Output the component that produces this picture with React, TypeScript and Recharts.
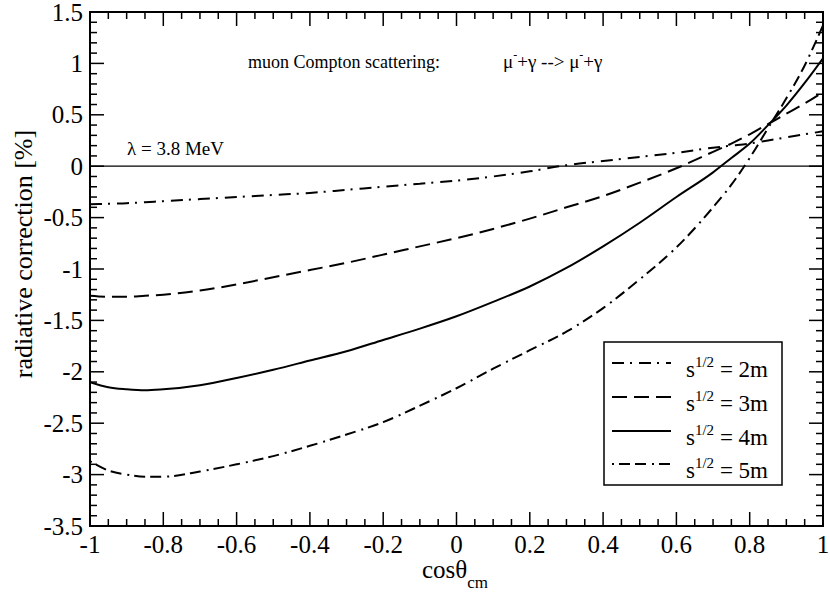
import React from "react"
import { LineChart, Line, XAxis, YAxis, ReferenceLine } from "recharts"

// cos(theta_cm) grid and radiative correction [%] for each sqrt(s)
const cosTheta = [
  -1, -0.95, -0.9, -0.85, -0.8, -0.7, -0.6, -0.5, -0.4, -0.3, -0.2, -0.1, 0,
  0.1, 0.2, 0.3, 0.4, 0.5, 0.6, 0.7, 0.75, 0.8, 0.85, 0.9, 0.95, 1,
]
const s2m = [
  -0.37, -0.365, -0.36, -0.35, -0.34, -0.32, -0.3, -0.28, -0.26, -0.23, -0.2,
  -0.17, -0.14, -0.1, -0.05, 0.01, 0.05, 0.09, 0.13, 0.18, 0.2, 0.22, 0.25,
  0.28, 0.31, 0.34,
]
const s3m = [
  -1.26, -1.27, -1.27, -1.26, -1.25, -1.21, -1.15, -1.08, -1.01, -0.94, -0.86,
  -0.78, -0.7, -0.61, -0.51, -0.4, -0.29, -0.16, -0.02, 0.14, 0.22, 0.31, 0.41,
  0.51, 0.61, 0.72,
]
const s4m = [
  -2.1, -2.15, -2.17, -2.18, -2.17, -2.13, -2.06, -1.98, -1.89, -1.8, -1.69,
  -1.58, -1.46, -1.32, -1.17, -0.99, -0.78, -0.55, -0.3, -0.06, 0.08, 0.22, 0.4,
  0.59, 0.81, 1.05,
]
const s5m = [
  -2.87, -2.96, -3.0, -3.02, -3.02, -2.97, -2.9, -2.82, -2.72, -2.61, -2.49,
  -2.33, -2.16, -1.97, -1.79, -1.61, -1.38, -1.1, -0.79, -0.4, -0.18, 0.08,
  0.37, 0.66, 0.98, 1.37,
]

const seriesLabels = ["2m", "3m", "4m", "5m"]
const seriesKeys = ["s2m", "s3m", "s4m", "s5m"]
const seriesDash = ["12 6 2 7", "15 7", "", "2 5 11 5 11 6"]

const xMajorTicks = [-1, -0.8, -0.6, -0.4, -0.2, 0, 0.2, 0.4, 0.6, 0.8, 1]
const yMajorTicks = [-3.5, -3, -2.5, -2, -1.5, -1, -0.5, 0, 0.5, 1, 1.5]

const data = cosTheta.map((x, i) => ({
  x,
  s2m: s2m[i],
  s3m: s3m[i],
  s4m: s4m[i],
  s5m: s5m[i],
}))

// minor ticks between the labelled ones
function withMinor(major: number[], parts: number) {
  const out: number[] = []
  for (let i = 0; i < major.length - 1; i++) {
    const step = (major[i + 1] - major[i]) / parts
    for (let k = 0; k < parts; k++) out.push(+(major[i] + k * step).toFixed(4))
  }
  out.push(major[major.length - 1])
  return out
}
const xTicks = withMinor(xMajorTicks, 4)
const yTicks = withMinor(yMajorTicks, 5)

const isMajor = (list: number[], v: number) =>
  list.some((m) => Math.abs(m - v) < 1e-6)

const FONT = "'Liberation Serif', 'Times New Roman', 'DejaVu Serif', serif"
const serif = { fontFamily: FONT }
const TOP = 12
const BOTTOM = 526
const LEFT = 90
const RIGHT = 823

function XTick(props: any) {
  const { x, payload, side } = props
  const v = payload.value
  const major = isMajor(xMajorTicks, v)
  const len = major ? 14 : 7
  const y0 = side === "bottom" ? BOTTOM : TOP
  const dir = side === "bottom" ? -1 : 1
  return (
    <g>
      <line x1={x} y1={y0} x2={x} y2={y0 + dir * len} stroke="#000" strokeWidth={1.5} />
      {major && side === "bottom" && (
        <text x={x} y={y0 + 27} textAnchor="middle" fontSize={25} style={serif} fill="#000">
          {String(v)}
        </text>
      )}
    </g>
  )
}

function YTick(props: any) {
  const { y, payload, side } = props
  const v = payload.value
  const major = isMajor(yMajorTicks, v)
  const len = major ? 14 : 7
  const x0 = side === "left" ? LEFT : RIGHT
  const dir = side === "left" ? 1 : -1
  return (
    <g>
      <line x1={x0} y1={y} x2={x0 + dir * len} y2={y} stroke="#000" strokeWidth={1.5} />
      {major && side === "left" && (
        <text x={x0 - 7} y={y + 8.5} textAnchor="end" fontSize={25} style={serif} fill="#000">
          {String(v)}
        </text>
      )}
    </g>
  )
}

export default function App() {
  const legendRows = [363, 397, 431, 464]
  return (
    <div style={{ position: "absolute", left: 0, top: 0, width: 830, height: 596, background: "#fff" }}>
      <LineChart
        width={830}
        height={596}
        data={data}
        margin={{ top: TOP - 2, right: 830 - RIGHT - 2, bottom: 596 - BOTTOM - 2, left: LEFT - 2 }}
      >
        <XAxis
          dataKey="x"
          type="number"
          domain={[-1, 1]}
          ticks={xTicks}
          interval={0}
          height={2}
          tickSize={0}
          allowDataOverflow
          axisLine={false}
          tickLine={false}
          tick={<XTick side="bottom" />}
        />
        <XAxis
          xAxisId="top"
          orientation="top"
          dataKey="x"
          type="number"
          domain={[-1, 1]}
          ticks={xTicks}
          interval={0}
          height={2}
          tickSize={0}
          allowDataOverflow
          axisLine={false}
          tickLine={false}
          tick={<XTick side="top" />}
        />
        <YAxis
          type="number"
          domain={[-3.5, 1.5]}
          ticks={yTicks}
          interval={0}
          width={2}
          tickSize={0}
          allowDataOverflow
          axisLine={false}
          tickLine={false}
          tick={<YTick side="left" />}
        />
        <YAxis
          yAxisId="right"
          orientation="right"
          type="number"
          domain={[-3.5, 1.5]}
          ticks={yTicks}
          interval={0}
          width={2}
          tickSize={0}
          allowDataOverflow
          axisLine={false}
          tickLine={false}
          tick={<YTick side="right" />}
        />
        <ReferenceLine y={0} stroke="#000" strokeWidth={1.2} />
        {seriesKeys.map((k, i) => (
          <Line
            key={k}
            dataKey={k}
            type="monotone"
            stroke="#000"
            strokeWidth={2}
            strokeDasharray={seriesDash[i] || undefined}
            dot={false}
            activeDot={false}
            isAnimationActive={false}
          />
        ))}
      </LineChart>

      <svg
        width={830}
        height={596}
        style={{ position: "absolute", left: 0, top: 0, pointerEvents: "none", fontFamily: FONT }}
      >
        <rect x={LEFT} y={TOP} width={RIGHT - LEFT} height={BOTTOM - TOP} fill="none" stroke="#000" strokeWidth={2} />
        <text x={248} y={68} fontSize={18} fill="#000" style={serif}>
          muon Compton scattering:
        </text>
        <text x={503} y={68} fontSize={19} fill="#000" style={{ ...serif, whiteSpace: "pre" }}>
          μ<tspan dy={-9} fontSize={12}>-</tspan>
          <tspan dy={9}>+γ --&gt; μ</tspan>
          <tspan dy={-9} fontSize={12}>-</tspan>
          <tspan dy={9}>+γ</tspan>
        </text>
        <text x={127} y={155} fontSize={19} fill="#000" style={serif}>
          λ = 3.8 MeV
        </text>

        <text
          transform="translate(32, 254) rotate(-90)"
          textAnchor="middle"
          fontSize={26}
          fill="#000"
          style={serif}
        >
          radiative correction [%]
        </text>
        <text x={422} y={578} fontSize={25} fill="#000" style={serif}>
          cosθ<tspan dy={10} fontSize={17}>cm</tspan>
        </text>

        <rect x={604} y={342} width={178} height={143} fill="#fff" stroke="#000" strokeWidth={1.5} />
        {seriesLabels.map((lab, i) => (
          <g key={lab}>
            <line
              x1={612}
              y1={legendRows[i]}
              x2={671}
              y2={legendRows[i]}
              stroke="#000"
              strokeWidth={2}
              strokeDasharray={seriesDash[i] || undefined}
            />
            <text x={686} y={legendRows[i] + 14} fontSize={23} fill="#000" style={serif}>
              s<tspan dy={-10} fontSize={15}>1/2</tspan>
              <tspan dy={10}> = {lab}</tspan>
            </text>
          </g>
        ))}
      </svg>
    </div>
  )
}
